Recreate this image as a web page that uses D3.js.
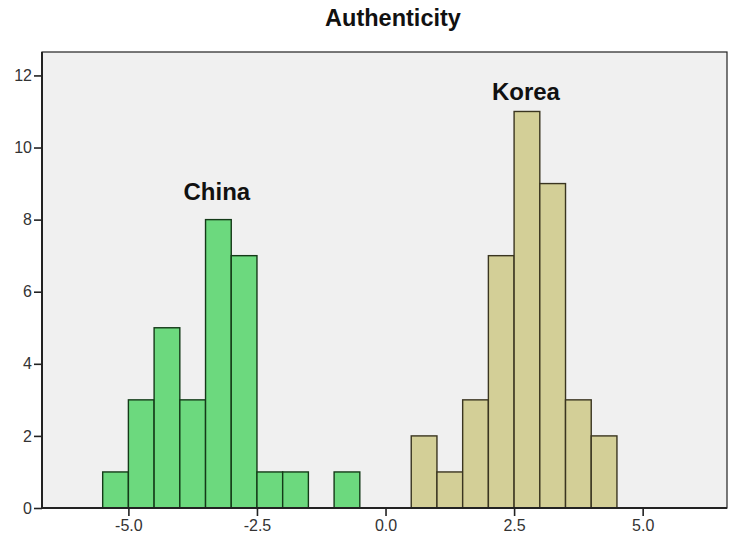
<!DOCTYPE html>
<html>
<head>
<meta charset="utf-8">
<script src="https://cdn.jsdelivr.net/npm/d3@7/dist/d3.min.js"></script>
<style>
  html, body { margin: 0; padding: 0; background: #ffffff; }
  svg { display: block; font-family: "Liberation Sans", Arial, sans-serif; }
</style>
</head>
<body>
<svg id="chart" width="733" height="541"></svg>
<script>
// Histogram bins (lower edges, width 0.5) and counts per group
const binWidth = 0.5;
const chinaBinStarts = [-5.5, -5.0, -4.5, -4.0, -3.5, -3.0, -2.5, -2.0, -1.5, -1.0];
const chinaCounts    = [1, 3, 5, 3, 8, 7, 1, 1, 0, 1];
const koreaBinStarts = [0.5, 1.0, 1.5, 2.0, 2.5, 3.0, 3.5, 4.0];
const koreaCounts    = [2, 1, 3, 7, 11, 9, 3, 2];

const xTicks = [-5.0, -2.5, 0.0, 2.5, 5.0];
const yTicks = [0, 2, 4, 6, 8, 10, 12];

const title = "Authenticity";
const groupLabels = [
  { text: "China", x: -3.28, y: 8.55 },
  { text: "Korea", x: 2.73, y: 11.33 }
];

const svg = d3.select("#chart");
const margin = { left: 42, top: 52, right: 6, bottom: 33 };
const W = 733, H = 541;
const plotW = W - margin.left - margin.right;
const plotH = H - margin.top - margin.bottom;

const x = d3.scaleLinear().domain([-6.68, 6.64]).range([margin.left, margin.left + plotW]);
const y = d3.scaleLinear().domain([0, 12.65]).range([margin.top + plotH, margin.top]);

// Plot background
svg.append("rect")
  .attr("x", margin.left).attr("y", margin.top)
  .attr("width", plotW).attr("height", plotH)
  .attr("fill", "#f0f0f0")
  .attr("stroke", "#222").attr("stroke-width", 1.2);

// Bars
function drawBars(starts, counts, fill, stroke) {
  const data = starts.map((s, i) => ({ s, c: counts[i] })).filter(d => d.c > 0);
  svg.append("g").selectAll("rect").data(data).join("rect")
    .attr("x", d => x(d.s))
    .attr("y", d => y(d.c))
    .attr("width", d => x(d.s + binWidth) - x(d.s))
    .attr("height", d => y(0) - y(d.c))
    .attr("fill", fill)
    .attr("stroke", stroke)
    .attr("stroke-width", 1.4);
}
drawBars(chinaBinStarts, chinaCounts, "#6cd97e", "#143a18");
drawBars(koreaBinStarts, koreaCounts, "#d3cf97", "#3a3520");

// Axes (plain hyphen for negative tick labels)
const fmtX = v => v.toFixed(1);
const xAxis = svg.append("g")
  .attr("transform", `translate(0,${y(0)})`)
  .call(d3.axisBottom(x).tickValues(xTicks).tickFormat(fmtX).tickSize(8).tickPadding(4));
const yAxis = svg.append("g")
  .attr("transform", `translate(${margin.left},0)`)
  .call(d3.axisLeft(y).tickValues(yTicks).tickFormat(d3.format("d")).tickSize(8).tickPadding(2));

[xAxis, yAxis].forEach(a => {
  a.select(".domain").attr("stroke", "#222").attr("stroke-width", 2);
  a.selectAll(".tick line").attr("stroke", "#222").attr("stroke-width", 1.6);
  a.selectAll(".tick text")
    .attr("fill", "#333")
    .style("font-family", "'Liberation Sans', Arial, sans-serif")
    .style("font-size", "16px");
});
xAxis.select(".domain").attr("d", `M${margin.left},0H${margin.left + plotW}`);
yAxis.select(".domain").attr("d", `M0,${y(0)}V${margin.top}`);

// Title
svg.append("text")
  .attr("x", 393).attr("y", 26)
  .attr("text-anchor", "middle")
  .attr("font-weight", "bold")
  .attr("font-size", 23.5)
  .attr("fill", "#111")
  .text(title);

// Group labels
svg.append("g").selectAll("text").data(groupLabels).join("text")
  .attr("x", d => x(d.x))
  .attr("y", d => y(d.y))
  .attr("text-anchor", "middle")
  .attr("font-weight", "bold")
  .attr("font-size", 24)
  .attr("fill", "#111")
  .text(d => d.text);
</script>
</body>
</html>
